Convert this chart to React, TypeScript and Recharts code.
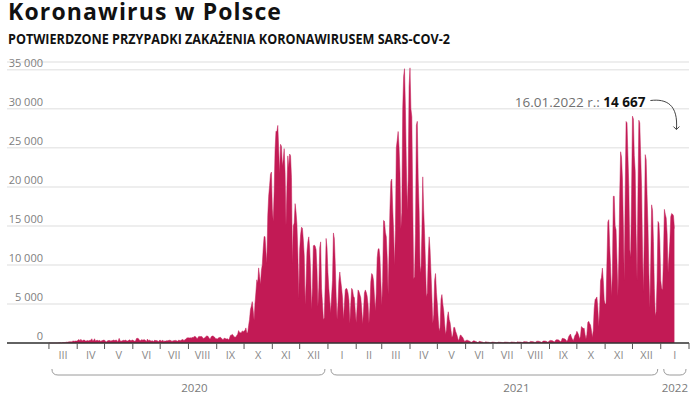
import { AreaChart, Area, XAxis, YAxis, CartesianGrid, ReferenceDot } from 'recharts';

// Dzienne nowe przypadki, od 1 III 2020
const mar20 = [0, 0, 0, 1, 0, 4, 6, 6, 1, 5, 9, 20, 17, 36, 16, 52, 54, 49, 70, 111, 98, 115, 152, 150, 170, 153, 231, 249, 224, 256, 243];
const apr20 = [244, 392, 437, 244, 475, 311, 292, 370, 380, 248, 268, 318, 285, 270, 380, 336, 545, 263, 306, 545, 263, 313, 381, 263, 336, 315, 196, 316, 307, 374];
const may20 = [357, 218, 142, 268, 307, 330, 307, 239, 306, 324, 383, 326, 341, 396, 205, 263, 595, 297, 225, 264, 315, 347, 317, 395, 276, 252, 273, 408, 345, 296, 357];
const jun20 = [380, 292, 230, 271, 576, 599, 575, 407, 282, 359, 440, 340, 417, 407, 314, 191, 506, 284, 371, 301, 300, 213, 303, 186, 372, 320, 307, 292, 165, 314];
const jul20 = [371, 230, 299, 358, 193, 262, 243, 299, 289, 318, 358, 337, 299, 192, 290, 286, 328, 333, 300, 230, 339, 337, 302, 358, 429, 460, 327, 384, 512, 615, 657];
const aug20 = [658, 644, 680, 624, 726, 680, 809, 843, 794, 599, 587, 815, 843, 820, 838, 800, 578, 615, 685, 800, 903, 900, 765, 551, 548, 815, 887, 900, 811, 709, 550];
const sep20 = [555, 509, 665, 710, 723, 653, 486, 424, 597, 601, 529, 509, 543, 384, 600, 975, 1002, 1107, 1002, 791, 746, 758, 974, 1136, 1587, 1350, 1306, 1326, 1552, 1450];
const oct20 = [1552, 1587, 1934, 1306, 1326, 2236, 3003, 4280, 4739, 5300, 4178, 2911, 5068, 6526, 8099, 7705, 9622, 8536, 7482, 9291, 10040, 12107, 13632, 13628, 11742, 10241, 16300, 18820, 20156, 21629, 21897];
const nov20 = [17171, 15578, 19364, 24692, 27143, 27086, 27875, 24785, 21713, 25454, 25221, 22683, 23500, 24900, 21854, 15002, 19883, 23975, 22464, 24213, 24000, 21200, 10139, 15002, 15362, 17856, 16800, 15178, 11483, 5733];
const dec20 = [11941, 13855, 14834, 14700, 13181, 11169, 4896, 7545, 11710, 12964, 13600, 12026, 9105, 4273, 7120, 12454, 12547, 12400, 11953, 9335, 4633, 7152, 12203, 12959, 7000, 5000, 3000, 3211, 7620, 13397, 12197];
const jan21 = [9000, 6945, 5387, 3844, 6000, 8000, 14100, 13400, 10200, 6000, 3000, 5000, 7900, 9100, 8000, 7000, 5800, 3000, 4800, 6800, 7000, 6900, 6400, 5500, 2500, 4800, 7000, 6800, 6000, 5800, 4000];
const feb21 = [2600, 4600, 6800, 6600, 6200, 5800, 4500, 2400, 4000, 6400, 6800, 6500, 6000, 4900, 2500, 4500, 7800, 8900, 8700, 8000, 6000, 4100, 6400, 10900, 12000, 12100, 11000, 8000];
const mar21 = [4800, 7900, 15700, 15600, 14200, 13600, 10900, 6200, 11500, 17200, 20700, 21000, 17300, 14400, 9900, 14400, 25000, 26000, 27100, 25000, 21800, 14600, 16700, 29900, 34150, 35143, 29900, 22700, 16965, 20880, 32874];
const apr21 = [35251, 30000, 29000, 18000, 8244, 8500, 14000, 27887, 28400, 21000, 17000, 9900, 9000, 14000, 21283, 17000, 14000, 10000, 5900, 6400, 11000, 13600, 12000, 9000, 6000, 2500, 3600, 8000, 8900, 6500];
const may21 = [5000, 3000, 1500, 2000, 5600, 6200, 5000, 4100, 2500, 1100, 1700, 3300, 4000, 3000, 2600, 1600, 700, 1000, 2000, 2000, 1500, 1200, 800, 330, 500, 1000, 1000, 800, 700, 400, 200];
const jun21 = [280, 350, 360, 300, 250, 190, 80, 130, 230, 300, 250, 200, 150, 60, 90, 220, 180, 150, 130, 110, 40, 70, 150, 130, 110, 100, 80, 30, 60, 120];
const jul21 = [110, 100, 80, 60, 20, 60, 110, 100, 90, 80, 60, 30, 60, 120, 110, 100, 90, 80, 40, 70, 130, 120, 110, 100, 90, 50, 80, 150, 140, 130, 120];
const aug21 = [100, 60, 100, 180, 170, 160, 150, 120, 70, 110, 200, 200, 180, 170, 140, 80, 120, 230, 240, 230, 200, 160, 80, 130, 250, 260, 250, 230, 180, 100, 150];
const sep21 = [300, 330, 320, 300, 250, 120, 200, 400, 420, 410, 390, 300, 150, 300, 600, 580, 560, 500, 400, 200, 400, 800, 1000, 1150, 760, 500, 300, 600, 1000, 1100];
const oct21 = [1500, 1300, 1000, 500, 900, 2100, 2000, 1850, 1900, 1100, 500, 1100, 2640, 2771, 2500, 2300, 1600, 700, 1600, 4400, 5559, 5706, 5900, 4500, 2100, 4300, 8000, 8400, 9600, 8000, 5500];
const nov21 = [5000, 5000, 10400, 15515, 15800, 12500, 9800, 6000, 9000, 18800, 18800, 15000, 14500, 10600, 6000, 10600, 19000, 24500, 23800, 21000, 15000, 8000, 19000, 28380, 28200, 24000, 20000, 12000, 11000, 19000];
const dec21 = [29064, 28700, 24000, 22000, 14000, 8000, 19000, 28542, 28200, 24000, 20000, 12000, 6500, 14000, 24133, 23500, 19000, 15000, 9000, 4500, 10000, 17700, 17000, 13000, 7000, 3500, 4000, 8000, 15571, 15300, 13000];
const jan22 = [8000, 7000, 6800, 11000, 17122, 16500, 16000, 14000, 9000, 11000, 13000, 16173, 16600, 16500, 16300, 14667];

const monthCases = [mar20, apr20, may20, jun20, jul20, aug20, sep20, oct20, nov20, dec20, jan21, feb21, mar21, apr21, may21, jun21, jul21, aug21, sep21, oct21, nov21, dec21, jan22];
const monthLabels = ['III', 'IV', 'V', 'VI', 'VII', 'VIII', 'IX', 'X', 'XI', 'XII', 'I', 'II', 'III', 'IV', 'V', 'VI', 'VII', 'VIII', 'IX', 'X', 'XI', 'XII', 'I'];
const monthLengths = [31, 30, 31, 30, 31, 31, 30, 31, 30, 31, 31, 28, 31, 30, 31, 30, 31, 31, 30, 31, 30, 31, 31];
const years = ['2020', '2021', '2022'];
const yearFirstMonth = [0, 10, 22];
const yTicks = [0, 5000, 10000, 15000, 20000, 25000, 30000, 35000];

const lastDateText = '16.01.2022 r.:';
const lastValueText = '14 667';

const W = 699;
const H = 393;
const margin = { top: 62, right: 10, bottom: 0, left: 6 };
const Y_W = 1;
const AXIS_H = 50;
const AXIS_Y = H - margin.bottom - AXIS_H;
const COLOR = '#c21a55';
const FONT = '"Open Sans", sans-serif';

const data: { day: number; cases: number }[] = [];
let dayIdx = 0;
monthCases.forEach((m) => m.forEach((v) => { data.push({ day: dayIdx, cases: v }); dayIdx++; }));
const last = data[data.length - 1];

const monthStarts: number[] = [];
let acc = 0;
monthLengths.forEach((len) => { monthStarts.push(acc); acc += len; });
const axisEnd = acc;
const boundaryTicks = [...monthStarts, axisEnd];
const labelTicks = monthStarts.map((s, i) => s + monthLengths[i] / 2);

// oś zaczyna się w połowie stycznia 2020
const X_DOMAIN: [number, number] = [-46, axisEnd];
const PX_PER_DAY = (W - margin.left - Y_W - margin.right) / (X_DOMAIN[1] - X_DOMAIN[0]);
const yearNudge = [6, 22, 0];

const MonthTick = ({ x, payload }: any) => {
  const v = payload.value;
  const li = labelTicks.indexOf(v);
  if (li >= 0) {
    return (
      <text x={x} y={AXIS_Y + 16} textAnchor="middle" fontSize={11} fill="#8a8a8a" fontFamily={FONT}>
        {monthLabels[li]}
      </text>
    );
  }
  const bi = boundaryTicks.indexOf(v);
  const yi = yearFirstMonth.indexOf(bi);
  let brace = null;
  if (yi >= 0) {
    const endDay = yi + 1 < yearFirstMonth.length ? monthStarts[yearFirstMonth[yi + 1]] : axisEnd;
    const x1 = x + 3;
    const x2 = Math.min(x + (endDay - v) * PX_PER_DAY - 3, W - margin.right - 1);
    const by = AXIS_Y + 32;
    const r = 6;
    brace = (
      <g>
        <path
          d={`M${x1},${by - r} Q${x1},${by} ${x1 + r},${by} L${x2 - r},${by} Q${x2},${by} ${x2},${by - r}`}
          fill="none"
          stroke="#9a9a9a"
          strokeWidth={1}
        />
        <text x={(x1 + x2) / 2 + yearNudge[yi]} y={AXIS_Y + 48.5} textAnchor="middle" fontSize={11.5} fill="#7a7a7a" fontFamily={FONT}>
          {years[yi]}
        </text>
      </g>
    );
  }
  return (
    <g>
      <line x1={x} x2={x} y1={AXIS_Y} y2={AXIS_Y + 6} stroke="#555" strokeWidth={1} />
      {brace}
    </g>
  );
};

const fmt = (v: number) => (v === 0 ? '0' : `${v / 1000} 000`);

const YTick = ({ y, payload }: any) => (
  <text x={43} y={y - 3} textAnchor="end" fontSize={11} fill="#808080" fontFamily={FONT}>
    {fmt(payload.value)}
  </text>
);

const Annotation = ({ cx, cy }: any) => {
  const tx = cx - 29;
  const ty = cy - 122;
  const ax = cx + 2;
  const ay = cy - 99;
  return (
    <g>
      <text x={tx} y={ty} textAnchor="end" fontSize={13.5} fontFamily={FONT}>
        <tspan fill="#707070">{lastDateText} </tspan>
        <tspan fill="#111" fontWeight={700}>{lastValueText}</tspan>
      </text>
      <path
        d={`M${tx + 5},${ty - 6} C${ax - 10},${ty - 8} ${ax + 2},${ty - 2} ${ax},${ay}`}
        fill="none"
        stroke="#444"
        strokeWidth={1}
      />
      <path d={`M${ax - 3},${ay - 3} L${ax},${ay} L${ax + 3},${ay - 3}`} fill="none" stroke="#444" strokeWidth={1} />
    </g>
  );
};

export default function App() {
  return (
    <div style={{ position: 'absolute', left: 0, top: 0, width: W, height: H, background: '#fff', fontFamily: FONT }}>
      <div
        style={{
          position: 'absolute',
          left: 8,
          top: 1,
          fontSize: 23,
          lineHeight: '21px',
          fontWeight: 700,
          color: '#111',
          letterSpacing: 1.15,
          whiteSpace: 'nowrap',
        }}
      >
        Koronawirus w Polsce
      </div>
      <svg width={W} height={60} style={{ position: 'absolute', left: 0, top: 0 }}>
        <text x={8} y={44.3} fontSize={13.5} fontWeight={700} fill="#111" textLength={442} lengthAdjust="spacingAndGlyphs">
          POTWIERDZONE PRZYPADKI ZAKAŻENIA KORONAWIRUSEM SARS-COV-2
        </text>
      </svg>
      <div style={{ position: 'absolute', left: 0, top: 0 }}>
        <AreaChart width={W} height={H} data={data} margin={margin}>
          <CartesianGrid vertical={false} stroke="#e9e9e9" strokeWidth={1.5} />
          <XAxis
            dataKey="day"
            type="number"
            domain={X_DOMAIN}
            ticks={[...boundaryTicks, ...labelTicks]}
            interval={0}
            height={AXIS_H}
            tickLine={false}
            axisLine={{ stroke: '#333', strokeWidth: 1.5 }}
            tick={<MonthTick />}
          />
          <YAxis
            type="number"
            domain={[0, 36000]}
            ticks={yTicks}
            interval={0}
            width={Y_W}
            axisLine={false}
            tickLine={false}
            tick={<YTick />}
          />
          <Area
            type="linear"
            dataKey="cases"
            stroke={COLOR}
            strokeWidth={0.5}
            fill={COLOR}
            fillOpacity={1}
            dot={false}
            activeDot={false}
            isAnimationActive={false}
          />
          <ReferenceDot x={last.day} y={last.cases} r={0} shape={<Annotation />} />
        </AreaChart>
      </div>
    </div>
  );
}
